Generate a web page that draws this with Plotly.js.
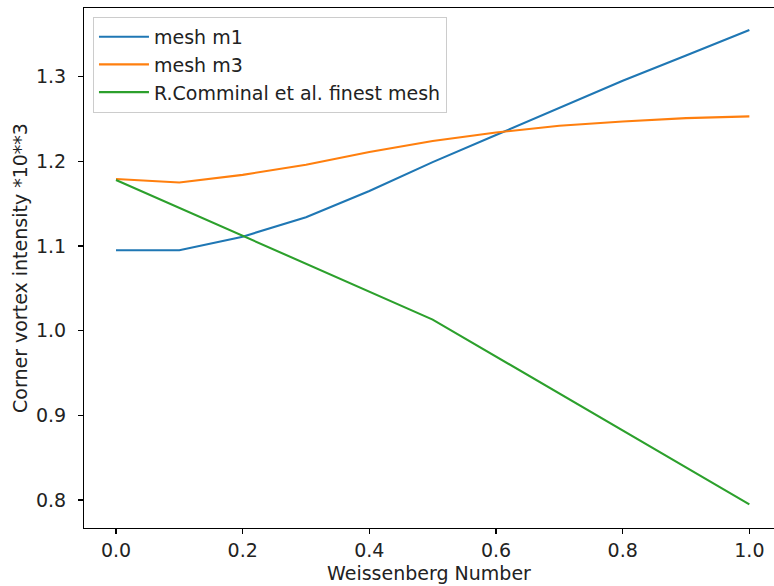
<!DOCTYPE html>
<html>
<head>
<meta charset="utf-8">
<script src="https://cdn.plot.ly/plotly-3.0.1.min.js"></script>
<style>html,body{margin:0;padding:0;background:#fff;}#chart{width:774px;height:586px;}</style>
</head>
<body>
<div id="chart"></div>
<script>
// Data
const wiM1 = [0.0, 0.1, 0.2, 0.3, 0.4, 0.5, 0.6, 0.7, 0.8, 0.9, 1.0];
const meshM1 = [1.095, 1.095, 1.111, 1.134, 1.165, 1.199, 1.231, 1.263, 1.295, 1.325, 1.355];
const wiM3 = [0.0, 0.1, 0.2, 0.3, 0.4, 0.5, 0.6, 0.7, 0.8, 0.9, 1.0];
const meshM3 = [1.179, 1.175, 1.184, 1.196, 1.211, 1.224, 1.234, 1.242, 1.247, 1.251, 1.253];
const wiRef = [0.0, 0.5, 1.0];
const comminal = [1.178, 1.013, 0.795];
const seriesNames = ["mesh m1", "mesh m3", "R.Comminal et al. finest mesh"];
const xTicks = [0.0, 0.2, 0.4, 0.6, 0.8, 1.0];
const yTicks = [0.8, 0.9, 1.0, 1.1, 1.2, 1.3];
const xTitle = "Weissenberg Number";
const yTitle = "Corner vortex intensity *10**3";

const colors = ["#1f77b4", "#ff7f0e", "#2ca02c"];
const font = "DejaVu Sans, sans-serif";
const fs = 19;

const traces = [
  {x: wiM1, y: meshM1, name: seriesNames[0], mode: "lines", line: {color: colors[0], width: 2.1}},
  {x: wiM3, y: meshM3, name: seriesNames[1], mode: "lines", line: {color: colors[1], width: 2.1}},
  {x: wiRef, y: comminal, name: seriesNames[2], mode: "lines", line: {color: colors[2], width: 2.1}}
];

const axisCommon = {
  showgrid: false, zeroline: false, showline: true, linecolor: "#000", linewidth: 1.1,
  ticks: "outside", ticklen: 5, tickwidth: 1.1, tickcolor: "#000",
  tickfont: {family: font, size: fs, color: "#222"}, tickformat: ".1f"
};

const layout = {
  width: 774, height: 586,
  margin: {l: 84, r: 0, t: 8, b: 58},
  paper_bgcolor: "#fff", plot_bgcolor: "#fff",
  font: {family: font, size: fs, color: "#222"},
  showlegend: true,
  legend: {
    x: 0.013, y: 0.983, xanchor: "left", yanchor: "top",
    bgcolor: "rgba(255,255,255,0.8)", bordercolor: "#cccccc", borderwidth: 1,
    itemwidth: 50,
    font: {family: font, size: fs, color: "#222"}
  },
  xaxis: Object.assign({}, axisCommon, {
    range: [-0.0505, 1.0389], tickvals: xTicks, mirror: true,
    title: {text: xTitle, font: {family: font, size: fs, color: "#222"}, standoff: 6}
  }),
  yaxis: Object.assign({}, axisCommon, {
    range: [0.767, 1.381], tickvals: yTicks, mirror: false, ticklabelstandoff: 8,
    title: {text: yTitle, font: {family: font, size: fs, color: "#222"}, standoff: 3}
  })
};

Plotly.newPlot("chart", traces, layout, {displayModeBar: false, staticPlot: true});
</script>
</body>
</html>
